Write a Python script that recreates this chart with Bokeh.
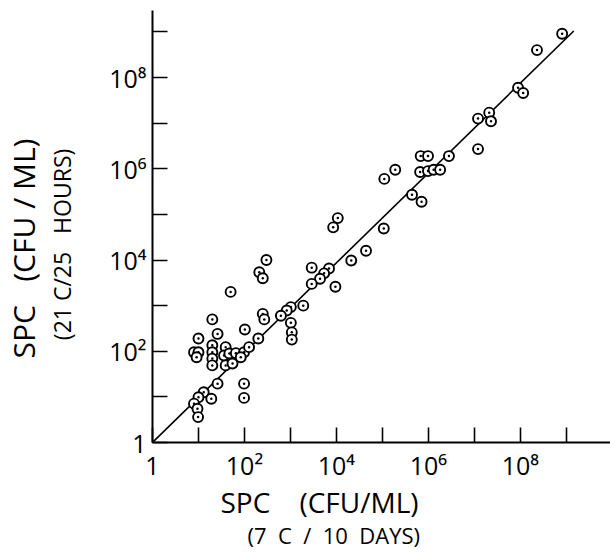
from bokeh.plotting import figure
from bokeh.models import Range1d, FixedTicker, Title
from bokeh.embed import file_html
from bokeh.resources import INLINE

# SPC (CFU/ML) at 7 C / 10 days (x) vs 21 C / 25 hours (y)
spc_7c = [8.1e8, 2.3e8, 8.9e7, 1.15e8, 2.1e7, 1.2e7, 2.3e7, 1.2e7, 2.8e6, 6.8e5,
          9.8e5, 6.6e5, 9.8e5, 1.3e6, 1.8e6, 4.4e5, 7.1e5, 1.1e5, 1.9e5, 1.07e5,
          4.4e4, 2.1e4, 1.07e4, 8.5e3, 9.5e3, 6.9e3, 5.4e3, 4.4e3, 2.9e3, 2.9e3,
          1.9e3, 1.02e3, 8.3e2, 6.2e2, 1.02e3, 1.07e3, 1.07e3, 3.0e2, 2.1e2, 2.5e2,
          2.5e2, 2.7e2, 50, 2.0e2, 1.02e2, 10, 20, 26,
          8.0, 10, 9.1, 20, 20, 20, 20, 39, 36, 47, 65, 98, 126, 39, 55, 83,
          26, 98, 98, 13, 10, 19, 8.0, 9.5, 9.8]
spc_21c = [9.1e8, 4.0e8, 6.0e7, 4.6e7, 1.7e7, 1.26e7, 1.1e7, 2.7e6, 1.9e6, 1.9e6,
           1.9e6, 8.5e5, 8.9e5, 9.5e5, 9.5e5, 2.7e5, 1.9e5, 6.0e5, 9.5e5, 4.9e4,
           1.6e4, 9.8e3, 8.3e4, 5.2e4, 2.6e3, 6.5e3, 5.1e3, 3.9e3, 6.8e3, 3.0e3,
           1.0e3, 9.3e2, 7.8e2, 6.0e2, 4.2e2, 2.6e2, 1.8e2, 1.0e4, 5.4e3, 4.0e3,
           6.6e2, 5.0e2, 2.0e3, 1.9e2, 3.0e2, 1.9e2, 5.0e2, 2.4e2,
           95, 95, 74, 135, 95, 69, 49, 123, 81, 89, 91, 95, 123, 49, 54, 74,
           19.5, 19.5, 9.5, 12.6, 9.8, 9.1, 7.1, 5.5, 3.6]

# line of equality drawn on the chart
line_x = [1, 1.45e9]
line_y = [1, 1.05e9]

major_ticks = [1, 1e2, 1e4, 1e6, 1e8]
minor_ticks = [1e1, 1e3, 1e5, 1e7, 1e9]
tick_labels = ["1", "10²", "10⁴", "10⁶", "10⁸"]

FONT = "Open Sans"
NB = "\u00a0"
x_title = "SPC" + NB * 4 + "(CFU/ML)"
x_subtitle = "(7" + NB * 2 + "C" + NB * 2 + "/" + NB * 2 + "10" + NB * 2 + "DAYS)"
y_title = "SPC" + NB * 3 + "(CFU" + NB + "/" + NB + "ML)"
y_subtitle = "(21" + NB + "C/25" + NB * 3 + "HOURS)" + NB * 6

p = figure(width=610, height=552, x_axis_type="log", y_axis_type="log",
           x_range=Range1d(1, 10 ** 9.96), y_range=Range1d(1, 10 ** 9.47),
           output_backend="svg", toolbar_location=None,
           min_border_left=152, min_border_right=0, min_border_top=10,
           min_border_bottom=110)
p.outline_line_color = None
p.grid.visible = False
p.background_fill_color = "white"
p.border_fill_color = "white"

overrides = {float(t): lab for t, lab in zip(major_ticks, tick_labels)}
for ax in (p.xaxis[0], p.yaxis[0]):
    ax.ticker = FixedTicker(ticks=major_ticks, minor_ticks=minor_ticks)
    ax.major_label_overrides = overrides
    ax.major_tick_in = 15
    ax.major_tick_out = 0
    ax.minor_tick_in = 15
    ax.minor_tick_out = 0
    ax.axis_line_width = 2
    ax.axis_line_color = "black"
    ax.major_tick_line_width = 1.6
    ax.minor_tick_line_width = 1.6
    ax.major_tick_line_color = "black"
    ax.minor_tick_line_color = "black"
    ax.major_label_text_font = FONT
    ax.major_label_text_font_size = "25px"
    ax.major_label_text_color = "black"
p.xaxis.major_label_standoff = 5
p.yaxis.major_label_standoff = 6

# inner y title as the axis label
p.yaxis.axis_label = y_subtitle
p.yaxis.axis_label_standoff = 28
p.yaxis.axis_label_text_font = FONT
p.yaxis.axis_label_text_font_size = "23px"
p.yaxis.axis_label_text_font_style = "normal"
p.yaxis.axis_label_text_color = "black"

p.line(line_x, line_y, line_color="black", line_width=1.6)
p.scatter(spc_7c, spc_21c, marker="circle_dot", size=10, line_color="black",
          line_width=1.9, fill_color="white")

t_below1 = Title(text=x_title, align="left", offset=68,
                 text_font=FONT, text_font_size="28px", text_font_style="normal",
                 text_color="black", standoff=-8)
t_below2 = Title(text=x_subtitle, align="left", offset=95,
                 text_font=FONT, text_font_size="22px", text_font_style="normal",
                 text_color="black", standoff=3)
p.add_layout(t_below1, "below")
p.add_layout(t_below2, "below")

t_left1 = Title(text=y_title, align="left", offset=84,
                text_font=FONT, text_font_size="30px", text_font_style="normal",
                text_color="black", standoff=0)
p.add_layout(t_left1, "left")

open("out.html", "w").write(file_html(p, INLINE))
